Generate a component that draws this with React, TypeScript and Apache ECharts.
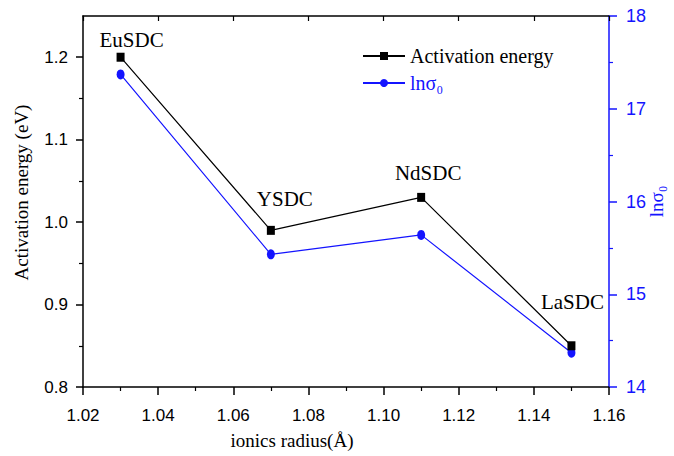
import React, { useEffect, useRef } from "react";
import * as echarts from "echarts";

const samples = ["EuSDC", "YSDC", "NdSDC", "LaSDC"];
const radius = [1.03, 1.07, 1.11, 1.15];
const activationEnergy = [1.2, 0.99, 1.03, 0.85];
const lnSigma0 = [17.37, 15.43, 15.64, 14.37];
const leftMajorTicks = [0.8, 0.9, 1.0, 1.1, 1.2];
const leftMinorTicks = [0.85, 0.95, 1.05, 1.15];
const labelOffsets = [[11, -2], [14, -16], [7, -9], [1, -29]];

const BLUE = "#1414ff";
const SERIF = "'Liberation Serif', 'DejaVu Serif', serif";
const SANS = "'Liberation Sans', Arial, sans-serif";
const NARROW = "'Liberation Sans Narrow', 'Liberation Sans', Arial, sans-serif";

export default function App() {
  const ref = useRef<HTMLDivElement>(null);
  useEffect(() => {
    if (!ref.current) return;
    document.body.style.margin = "0";
    const chart = echarts.init(ref.current, null, { renderer: "svg" });
    const axisLine = { lineStyle: { color: "#000", width: 1.5 } };
    chart.setOption({
      animation: false,
      backgroundColor: "#fff",
      grid: { left: 83, right: 65, top: 16, bottom: 69, containLabel: false, outerBoundsMode: "none" },
      legend: {
        orient: "vertical",
        left: 357,
        top: 41,
        itemWidth: 42,
        itemHeight: 10,
        itemGap: 7,
        textStyle: { fontFamily: SERIF, fontSize: 20 },
        data: [
          { name: "Activation energy", textStyle: { color: "#000" } },
          { name: "lnσ₀", textStyle: { color: BLUE } },
        ],
      },
      xAxis: [
        {
          type: "value",
          min: 1.02,
          max: 1.16,
          interval: 0.02,
          position: "bottom",
          name: "ionics radius(Å)",
          nameLocation: "middle",
          nameGap: 44,
          nameMoveOverlap: false,
          nameTextStyle: { fontFamily: SERIF, fontSize: 19, color: "#000", padding: [0, 108, 0, 0] },
          axisLine,
          axisTick: { show: true, inside: false, length: 8, lineStyle: { color: "#000", width: 1.5 } },
          minorTick: { show: true, splitNumber: 2, length: 4, lineStyle: { color: "#000", width: 1.2 } },
          axisLabel: { color: "#000", fontFamily: SANS, fontSize: 17, margin: 20, formatter: (v: number) => v.toFixed(2) },
          splitLine: { show: false },
        },
        {
          type: "value",
          min: 1.02,
          max: 1.16,
          interval: 0.02,
          position: "top",
          axisLine,
          axisTick: { show: true, inside: true, length: 5, lineStyle: { color: "#000", width: 1.2 } },
          axisLabel: { show: false },
          splitLine: { show: false },
        },
      ],
      yAxis: [
        {
          type: "value",
          min: 0.8,
          max: 1.25,
          position: "left",
          name: "Activation energy (eV)",
          nameLocation: "middle",
          nameGap: 52,
          nameMoveOverlap: false,
          nameRotate: 90,
          nameTextStyle: { fontFamily: SERIF, fontSize: 19, color: "#000", padding: [0, 0, 0, 18] },
          axisLine,
          axisTick: { show: true, inside: false, length: 7, customValues: leftMajorTicks, lineStyle: { color: "#000", width: 1.5 } },
          axisLabel: {
            color: "#000",
            fontFamily: SANS,
            fontSize: 17,
            margin: 15,
            customValues: leftMajorTicks,
            formatter: (v: number) => v.toFixed(1),
          },
          splitLine: { show: false },
        },
        {
          type: "value",
          min: 0.8,
          max: 1.25,
          position: "left",
          axisLine: { show: false },
          axisTick: { show: true, inside: false, length: 4, customValues: leftMinorTicks, lineStyle: { color: "#000", width: 1.2 } },
          axisLabel: { show: false },
          splitLine: { show: false },
        },
        {
          type: "value",
          min: 14,
          max: 18,
          interval: 1,
          position: "right",
          name: "lnσ₀",
          nameLocation: "middle",
          nameGap: 38,
          nameMoveOverlap: false,
          nameRotate: 90,
          nameTextStyle: { fontFamily: SERIF, fontSize: 19, color: BLUE },
          axisLine: { lineStyle: { color: BLUE, width: 1.5 } },
          axisTick: { show: true, inside: false, length: 8, lineStyle: { color: BLUE, width: 1.5 } },
          minorTick: { show: true, splitNumber: 2, length: 4, lineStyle: { color: BLUE, width: 1.2 } },
          axisLabel: { color: BLUE, fontFamily: NARROW, fontSize: 18, margin: 17 },
          splitLine: { show: false },
        },
      ],
      series: [
        {
          name: "lnσ₀",
          type: "line",
          xAxisIndex: 0,
          yAxisIndex: 2,
          data: radius.map((x, i) => [x, lnSigma0[i]]),
          symbol: "circle",
          symbolSize: [8, 10],
          itemStyle: { color: BLUE },
          lineStyle: { color: BLUE, width: 1.2 },
          z: 2,
        },
        {
          name: "Activation energy",
          type: "line",
          xAxisIndex: 0,
          yAxisIndex: 0,
          data: radius.map((x, i) => ({
            value: [x, activationEnergy[i]],
            label: { offset: labelOffsets[i] },
          })),
          symbol: "rect",
          symbolSize: [8, 9],
          itemStyle: { color: "#000" },
          lineStyle: { color: "#000", width: 1.2 },
          label: {
            show: true,
            position: "top",
            distance: 0,
            fontFamily: SERIF,
            fontSize: 21,
            color: "#000",
            formatter: (p: any) => samples[p.dataIndex],
          },
          z: 3,
        },
      ],
    });
    return () => chart.dispose();
  }, []);
  return <div ref={ref} style={{ width: 674, height: 456 }} />;
}
